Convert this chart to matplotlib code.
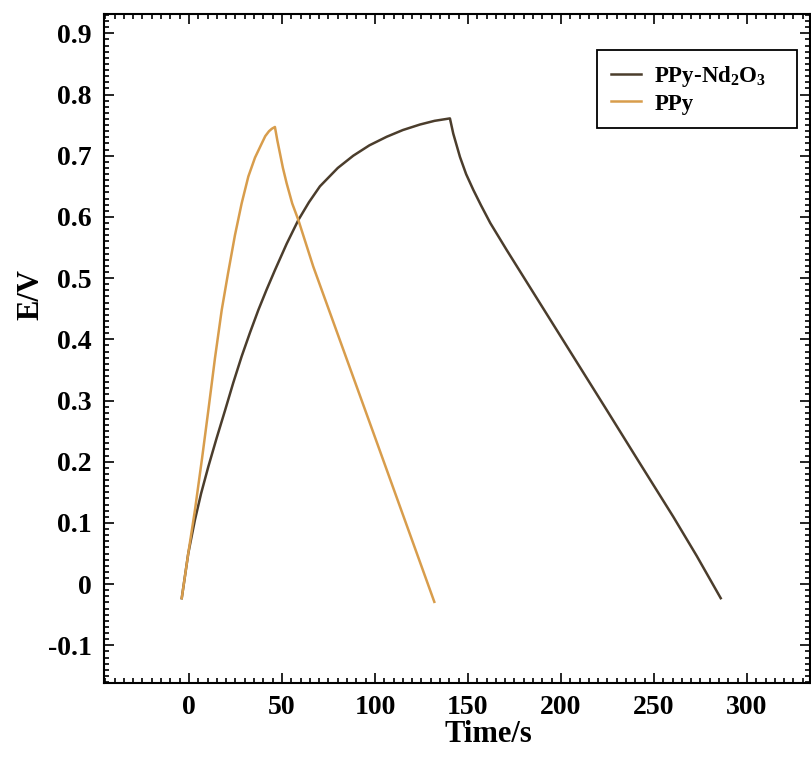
import matplotlib
matplotlib.use("Agg")
import matplotlib.pyplot as plt
from matplotlib.ticker import MultipleLocator, FormatStrFormatter

# PPy-Nd2O3 charge / discharge
comp_t = [-3.9, -0.4, 3.2, 6.5, 10.4, 14.8, 19.4, 23.8, 28.3, 32.8, 37.3, 41.7, 46.2, 52.5,
          58.8, 64.5, 70.4, 80.0, 88.3, 97.0, 106.3, 115.0, 124.2, 132.0, 140.3,
          142.1, 145.7, 149.0, 152.9, 157.0, 162.0, 170.8, 188.7, 206.6, 224.5, 242.5,
          260.4, 273.0, 285.9]
comp_e = [-0.023, 0.05, 0.105, 0.148, 0.192, 0.238, 0.284, 0.329, 0.372, 0.411, 0.448, 0.481,
          0.513, 0.556, 0.595, 0.624, 0.650, 0.680, 0.700, 0.717, 0.731, 0.742, 0.751, 0.757,
          0.761, 0.736, 0.698, 0.670, 0.644, 0.619, 0.590, 0.546, 0.459, 0.372, 0.285, 0.197,
          0.110, 0.046, -0.023]

# PPy charge / discharge
ppy_t = [-3.9, -0.4, 3.2, 7.0, 10.4, 14.0, 17.6, 21.0, 24.7, 28.3, 31.9, 35.5, 39.1, 41.0,
         43.0, 44.5, 46.2, 47.5, 48.9, 50.5, 52.5, 55.5, 58.8, 62.8, 66.8, 100.0, 131.9]
ppy_e = [-0.023, 0.05, 0.121, 0.205, 0.284, 0.370, 0.448, 0.508, 0.570, 0.622, 0.666, 0.697,
         0.720, 0.732, 0.740, 0.744, 0.747, 0.725, 0.704, 0.680, 0.655, 0.622, 0.595, 0.557,
         0.519, 0.240, -0.029]

labels = ["PPy-Nd$_{2}$O$_{3}$", "PPy"]
colors = ["#4b3d2c", "#d89d4c"]

plt.rcParams['font.family'] = 'Liberation Serif'
plt.rcParams['font.weight'] = 'bold'
plt.rcParams['axes.unicode_minus'] = False
plt.rcParams['mathtext.fontset'] = 'custom'
plt.rcParams['mathtext.rm'] = 'Liberation Serif:bold'
plt.rcParams['mathtext.it'] = 'Liberation Serif:bold'
plt.rcParams['mathtext.bf'] = 'Liberation Serif:bold'

fig = plt.figure(figsize=(8.11, 7.69), dpi=100)
ax = fig.add_axes([104 / 811, 86 / 769, 706 / 811, 669 / 769])

ax.plot(comp_t, comp_e, color=colors[0], lw=1.8, label=labels[0])
ax.plot(ppy_t, ppy_e, color=colors[1], lw=1.8, label=labels[1])

ax.set_xlim(-45.7, 333.9)
ax.set_ylim(-0.1616, 0.9316)

ax.xaxis.set_major_locator(MultipleLocator(50))
ax.xaxis.set_minor_locator(MultipleLocator(5))
ax.yaxis.set_major_locator(MultipleLocator(0.1))
ax.yaxis.set_minor_locator(MultipleLocator(0.01))
ax.yaxis.set_major_formatter(FormatStrFormatter('%g'))

ax.tick_params(which='both', direction='in', top=True, right=True, width=1.2)
ax.tick_params(which='major', length=7, labelsize=20, pad=9)
ax.tick_params(which='minor', length=3.5)
for s in ax.spines.values():
    s.set_linewidth(1.5)

ax.set_xlabel("Time/s", fontsize=22, fontweight='bold')
ax.set_ylabel("E/V", fontsize=22, fontweight='bold')
ax.xaxis.set_label_coords(0.544, -0.056)
ax.yaxis.set_label_coords(-0.083, 0.58)

leg = ax.legend(loc='upper right', bbox_to_anchor=(0.6983, 0.8, 0.2833, 0.146),
                mode='expand', borderaxespad=0,
                fontsize=16.5, fancybox=False, edgecolor='black', framealpha=1,
                handlelength=1.3, borderpad=0.6, labelspacing=0.2, handletextpad=0.6)
leg.get_frame().set_linewidth(1.3)

fig.savefig("out.png", dpi=100)
